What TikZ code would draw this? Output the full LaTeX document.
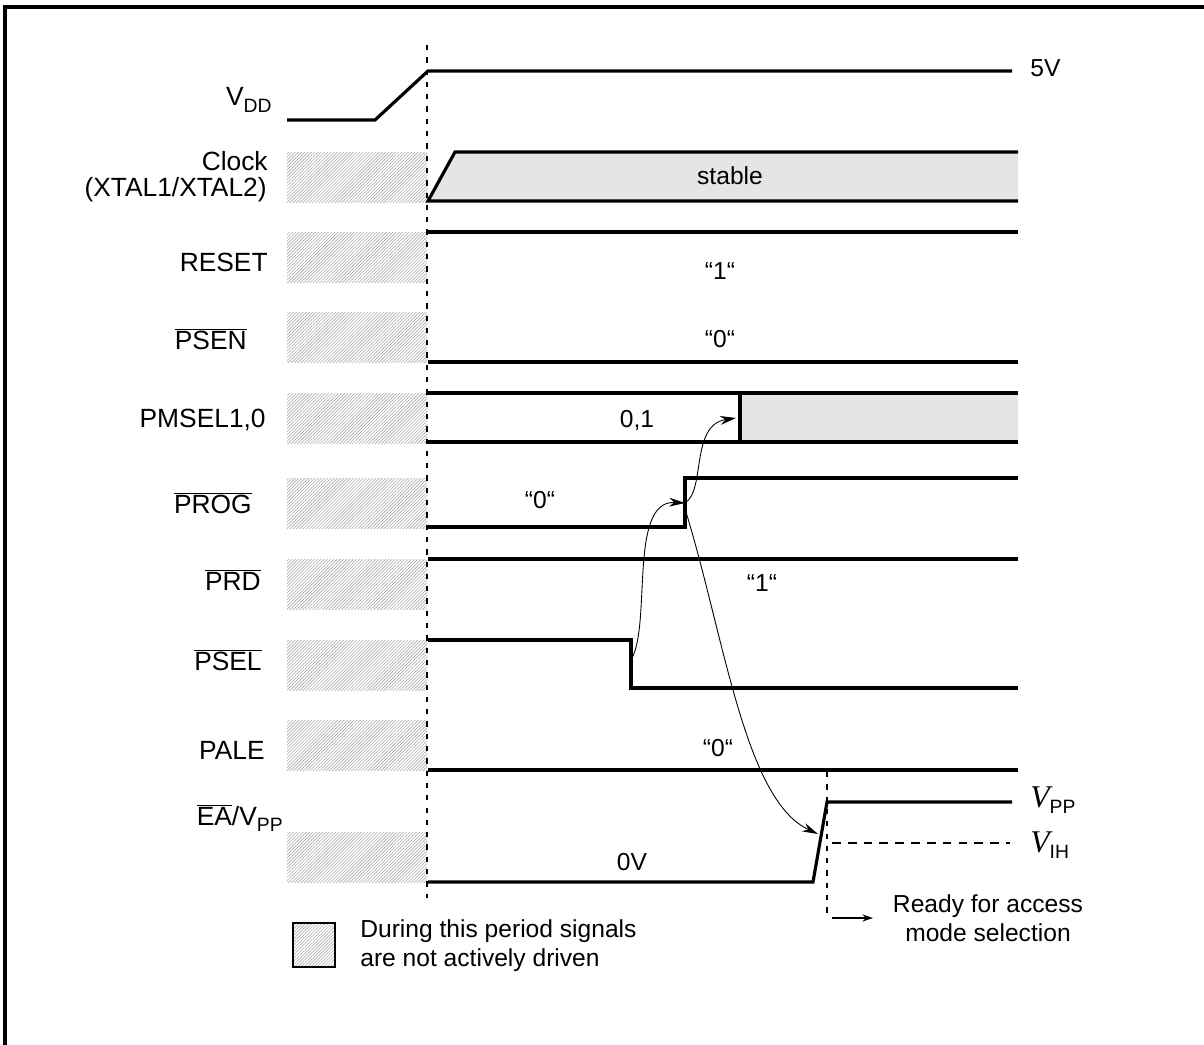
\documentclass[tikz,border=0pt]{standalone}
\usepackage{fontspec}
\setmainfont{Liberation Sans}
\newfontfamily\timesfont{Liberation Serif}
\usetikzlibrary{patterns.meta}
\usetikzlibrary{arrows.meta}

\newcommand{\ovl}[1]{$\overline{\mbox{#1}}$}
\newcommand{\subs}[1]{\raisebox{-0.45ex}{\normalfont\fontsize{11}{13}\selectfont #1}}

\tikzset{
  sig/.style={line width=1.8pt},
  hatch/.style={pattern={Lines[angle=45,distance=1.3pt,line width=0.35pt]},pattern color=gray!65},
  lbl/.style={anchor=east,inner sep=0pt,font=\fontsize{15}{17}\selectfont},
  txt/.style={inner sep=0pt,font=\fontsize{14}{16.5}\selectfont},
  cause/.style={-{Stealth[length=9pt,width=5pt]},line width=0.5pt},
  guide/.style={line width=1pt,dash pattern=on 3pt off 4pt}
}

\begin{document}
\begin{tikzpicture}[x=0.02cm,y=-0.02cm]
			\useasboundingbox (0,0) rectangle (1204,1045);
			% draw frame
			\draw[line width=1.8pt] (5,1045) -- (5,7) -- (1204,7);

			% draw hatched areas
			\foreach \y in {152,232,312,393,478,559,640,720,832}
			\fill[hatch] (287,\y) rectangle (427,\y+50);

			% draw guide lines
			\draw[guide] (427,45) -- (427,898);
			\draw[guide] (827,772) -- (827,915);

			% draw signals
			\draw[sig] (287,120) -- (375,120) -- (428,71) -- (1012,71);
			\fill[gray!20] (428,201) -- (455,152) -- (1018,152) -- (1018,201) -- cycle;
			\draw[sig] (1018,152) -- (455,152) -- (428,201) -- (1018,201);
			\draw[sig] (428,232) -- (1018,232);
			\draw[sig] (428,362) -- (1018,362);
			\fill[gray!20] (740,393) rectangle (1018,442);
			\draw[sig] (428,393) -- (1018,393);
			\draw[sig] (428,442) -- (1018,442);
			\draw[sig] (740,393) -- (740,442);
			\draw[sig] (428,527) -- (685,527) -- (685,478) -- (1018,478);
			\draw[sig] (428,559) -- (1018,559);
			\draw[sig] (428,640) -- (631,640) -- (631,688) -- (1018,688);
			\draw[sig] (428,770) -- (1018,770);
			\draw[sig] (428,882) -- (813,882) -- (827,802) -- (1012,802);
			\draw[line width=0.9pt,dash pattern=on 5pt off 4pt] (832,843) -- (1010,843);

			% draw signal names
			\node[lbl] (vdd) at (272,100) {V\subs{DD}};
			\node[lbl] (clk) at (268,161) {Clock};
			\node[lbl] (xtal) at (267,190) {(XTAL1/XTAL2)};
			\node[lbl] (reset) at (268,262) {RESET};
			\node[lbl] (psen) at (247,339) {\ovl{PSEN}};
			\node[lbl] (pmsel) at (266,420) {PMSEL1,0};
			\node[lbl] (prog) at (252,503) {\ovl{PROG}};
			\node[lbl] (prd) at (261,580) {\ovl{PRD}};
			\node[lbl] (psel) at (262,660) {\ovl{PSEL}};
			\node[lbl] (pale) at (265,750) {PALE};
			\node[lbl] (ea) at (283,818) {\ovl{EA}/V\subs{PP}};

			% draw levels
			\node[txt,anchor=west] (five) at (1030,68) {5V};
			\node[txt] (stable) at (730,176) {stable};
			\node[txt] (one1) at (720,271) {“1“};
			\node[txt] (zero1) at (720,339) {“0“};
			\node[txt] (sel) at (637,420) {0,1};
			\node[txt] (zero2) at (540,500) {“0“};
			\node[txt] (one2) at (762,583) {“1“};
			\node[txt] (zero3) at (718,748) {“0“};
			\node[txt] (zerov) at (632,862) {0V};
			\node[anchor=west,inner sep=0pt] (vpp) at (1030,800) {\fontsize{18}{20}\selectfont\timesfont\itshape V\subs{PP}};
			\node[anchor=west,inner sep=0pt] (vih) at (1030,845) {\fontsize{18}{20}\selectfont\timesfont\itshape V\subs{IH}};

			% draw dependencies
			\coordinate (pseledge) at (631,660);
			\coordinate (progedge) at (685,503);
			\coordinate (progedgelow) at (686,512);
			\coordinate (pmseledge) at (736,418);
			\coordinate (eaedge) at (818,834);
			\draw[cause] (pseledge) .. controls (652,625) and (628,500) .. (progedge);
			\draw[cause] (progedge) .. controls (706,490) and (690,425) .. (pmseledge);
			\draw[cause] (progedgelow) .. controls (725,640) and (745,800) .. (eaedge);

			% draw ready note
			\coordinate (readyfrom) at (832,918);
			\node[txt,align=center] (ready) at (988,918) {Ready for access\\mode selection};
			\draw[-{Stealth[length=6pt,width=4pt]},line width=0.9pt] (readyfrom) -- (873,918);

			% draw legend
			\draw[hatch] (293,923) rectangle (335,967);
			\draw[line width=1pt] (293,923) rectangle (335,967);
			\node[txt,anchor=west,align=left] (legend) at (360,946) {During this period signals\\are not actively driven};
\end{tikzpicture}
\end{document}
